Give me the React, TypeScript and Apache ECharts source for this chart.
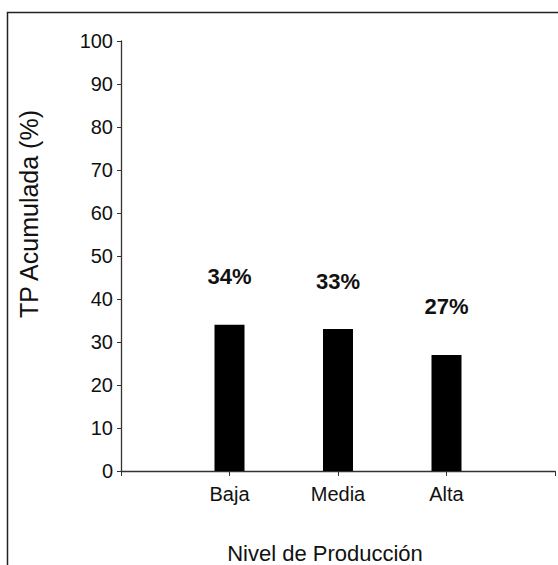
import React, { useEffect, useRef } from "react";
import * as echarts from "echarts";

const categories = ["", "Baja", "Media", "Alta", ""];
const values: (number | null)[] = [null, 34, 33, 27, null];
const labels: (string | null)[] = [null, "34%", "33%", "27%", null];
const yTicksMin = 0;
const yTicksMax = 100;
const yTicksStep = 10;
const yTitle = "TP Acumulada (%)";
const xTitle = "Nivel de Producción";

const FONT = '"Liberation Sans", Arial, Helvetica, sans-serif';

export default function App() {
  const ref = useRef<HTMLDivElement>(null);
  useEffect(() => {
    document.body.style.margin = "0";
    if (!ref.current) return;
    const chart = echarts.init(ref.current, null, { renderer: "svg" });
    chart.setOption({
      animation: false,
      backgroundColor: "#ffffff",
      grid: { left: 121, right: 1, top: 41, bottom: 94, containLabel: false },
      xAxis: {
        type: "category",
        data: categories,
        boundaryGap: false,
        axisLine: { show: true, lineStyle: { color: "#333", width: 1.3 } },
        axisTick: { show: true, length: 5, interval: 0, lineStyle: { color: "#333", width: 1 } },
        axisLabel: { color: "#111", fontSize: 20, fontFamily: FONT, margin: 13, interval: 0 },
        splitLine: { show: false },
      },
      yAxis: {
        type: "value",
        min: yTicksMin,
        max: yTicksMax,
        interval: yTicksStep,
        axisLine: { show: true, lineStyle: { color: "#333", width: 1.3 } },
        axisTick: { show: true, length: 4, lineStyle: { color: "#333", width: 1 } },
        axisLabel: { color: "#111", fontSize: 20, fontFamily: FONT, margin: 8 },
        splitLine: { show: false },
      },
      series: [
        {
          type: "bar",
          data: values.map((v, i) => ({
            value: v,
            label: {
              show: v !== null,
              formatter: labels[i] ?? "",
            },
          })),
          barWidth: 30,
          itemStyle: { color: "#000000" },
          label: {
            show: true,
            position: "top",
            distance: 37,
            color: "#111",
            fontSize: 22,
            fontWeight: "bold",
            fontFamily: FONT,
          },
        },
      ],
      graphic: [
        {
          type: "rect",
          shape: { x: 7.5, y: 12.5, width: 800, height: 800 },
          style: { fill: "none", stroke: "#222", lineWidth: 1.5 },
          silent: true,
          z: 100,
        },
        {
          type: "text",
          x: 29,
          y: 214,
          rotation: Math.PI / 2,
          style: {
            text: yTitle,
            fontSize: 25,
            fontFamily: FONT,
            fill: "#111",
            textAlign: "center",
            textVerticalAlign: "middle",
          },
        },
        {
          type: "text",
          x: 325,
          y: 553,
          style: {
            text: xTitle,
            fontSize: 22,
            fontFamily: FONT,
            fill: "#111",
            textAlign: "center",
            textVerticalAlign: "middle",
          },
        },
      ],
    });
    return () => chart.dispose();
  }, []);
  return <div ref={ref} style={{ width: 558, height: 565 }} />;
}
